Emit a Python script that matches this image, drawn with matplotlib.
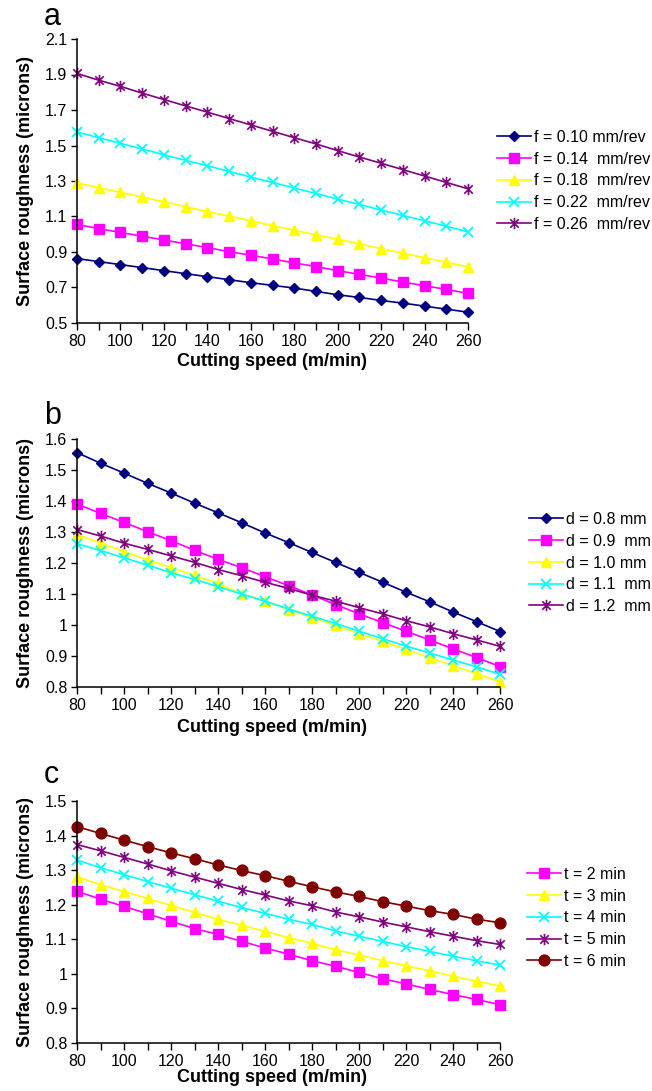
import numpy as np
import matplotlib
matplotlib.use("Agg")
import matplotlib.pyplot as plt
from matplotlib.path import Path

plt.rcParams['font.family'] = ['Liberation Sans', 'DejaVu Sans']

speed = list(range(80, 261, 10))

# (a) effect of feed rate
feed_labels = ["f = 0.10 mm/rev", "f = 0.14  mm/rev", "f = 0.18  mm/rev",
               "f = 0.22  mm/rev", "f = 0.26  mm/rev"]
ra_f010 = [0.863, 0.846, 0.829, 0.812, 0.795, 0.778, 0.761, 0.744, 0.727, 0.712,
           0.697, 0.678, 0.659, 0.644, 0.627, 0.612, 0.595, 0.578, 0.561]
ra_f014 = [1.055, 1.032, 1.010, 0.989, 0.968, 0.946, 0.925, 0.902, 0.882, 0.861,
           0.838, 0.818, 0.795, 0.774, 0.753, 0.731, 0.710, 0.689, 0.667]
ra_f018 = [1.290, 1.262, 1.236, 1.209, 1.183, 1.155, 1.128, 1.102, 1.076, 1.049,
           1.023, 0.996, 0.972, 0.946, 0.919, 0.893, 0.868, 0.842, 0.816]
ra_f022 = [1.576, 1.544, 1.512, 1.480, 1.448, 1.416, 1.386, 1.354, 1.322, 1.292,
           1.260, 1.230, 1.198, 1.168, 1.136, 1.106, 1.076, 1.045, 1.013]
ra_f026 = [1.906, 1.868, 1.833, 1.795, 1.759, 1.723, 1.688, 1.652, 1.616, 1.580,
           1.544, 1.509, 1.471, 1.435, 1.400, 1.364, 1.328, 1.292, 1.256]

# (b) effect of depth of cut
depth_labels = ["d = 0.8 mm", "d = 0.9  mm", "d = 1.0 mm", "d = 1.1  mm", "d = 1.2  mm"]
ra_d08 = [1.556, 1.522, 1.490, 1.457, 1.426, 1.393, 1.362, 1.330, 1.297, 1.266,
          1.234, 1.202, 1.170, 1.138, 1.106, 1.075, 1.042, 1.011, 0.979]
ra_d09 = [1.390, 1.360, 1.331, 1.301, 1.272, 1.241, 1.212, 1.185, 1.156, 1.127,
          1.097, 1.066, 1.036, 1.008, 0.980, 0.952, 0.923, 0.895, 0.866]
ra_d10 = [1.292, 1.264, 1.237, 1.210, 1.185, 1.160, 1.134, 1.101, 1.076, 1.050,
          1.024, 0.999, 0.972, 0.948, 0.921, 0.895, 0.869, 0.843, 0.817]
ra_d11 = [1.262, 1.240, 1.217, 1.193, 1.169, 1.147, 1.124, 1.100, 1.077, 1.052,
          1.028, 1.005, 0.980, 0.956, 0.932, 0.910, 0.887, 0.865, 0.841]
ra_d12 = [1.308, 1.287, 1.264, 1.244, 1.223, 1.202, 1.179, 1.159, 1.138, 1.118,
          1.096, 1.077, 1.056, 1.036, 1.014, 0.994, 0.972, 0.952, 0.931]

# (c) effect of machining time
time_labels = ["t = 2 min", "t = 3 min", "t = 4 min", "t = 5 min", "t = 6 min"]
ra_t2 = [1.239, 1.216, 1.195, 1.174, 1.152, 1.131, 1.114, 1.094, 1.075, 1.057,
         1.038, 1.022, 1.004, 0.986, 0.971, 0.955, 0.940, 0.926, 0.911]
ra_t3 = [1.281, 1.258, 1.238, 1.218, 1.198, 1.178, 1.158, 1.141, 1.123, 1.105,
         1.088, 1.070, 1.055, 1.038, 1.023, 1.009, 0.993, 0.979, 0.965]
ra_t4 = [1.329, 1.307, 1.287, 1.267, 1.248, 1.229, 1.210, 1.192, 1.175, 1.158,
         1.143, 1.124, 1.109, 1.094, 1.079, 1.065, 1.051, 1.038, 1.025]
ra_t5 = [1.374, 1.356, 1.337, 1.318, 1.298, 1.280, 1.262, 1.244, 1.228, 1.211,
         1.197, 1.179, 1.165, 1.150, 1.136, 1.122, 1.109, 1.096, 1.085]
ra_t6 = [1.426, 1.406, 1.387, 1.368, 1.350, 1.333, 1.315, 1.299, 1.284, 1.268,
         1.252, 1.237, 1.224, 1.209, 1.196, 1.183, 1.172, 1.158, 1.148]

# asterisk marker: an "x" crossed by a vertical bar
asterisk = Path([(-1, -1), (1, 1), (-1, 1), (1, -1), (0, -1.35), (0, 1.35)],
                [Path.MOVETO, Path.LINETO, Path.MOVETO, Path.LINETO,
                 Path.MOVETO, Path.LINETO])

STYLES = {
    'diamond': dict(color='#000080', marker='D', ms=5.5, mfc='#000080', mec='#000080'),
    'square': dict(color='#FF00FF', marker='s', ms=7.2, mfc='#FF00FF', mec='#FF00FF'),
    'triangle': dict(color='#FFFF00', marker='^', ms=7.8, mfc='#FFFF00', mec='#FFFF00'),
    'cross': dict(color='#00FFFF', marker='x', ms=7.2, mec='#00FFFF', mew=1.3),
    'asterisk': dict(color='#800080', marker=asterisk, ms=8.2, mfc='none', mec='#800080', mew=1.2),
    'circle': dict(color='#800000', marker='o', ms=7.8, mfc='#800000', mec='#800000'),
}

W, H = 652, 1091
fig = plt.figure(figsize=(W / 100, H / 100), dpi=100)


def px_axes(left, right, top, bottom):
    return fig.add_axes([left / W, 1 - bottom / H, (right - left) / W, (bottom - top) / H])


def style_axes(ax, ylim, yticks, yfmt, left, right, top, bottom, label_y, letter, letter_y):
    ax.set_xlim(80, 260)
    ax.set_ylim(*ylim)
    ax.set_xticks(range(80, 261, 20))
    ax.set_xticks(range(90, 260, 20), minor=True)
    ax.set_yticks(yticks)
    ax.set_yticklabels([yfmt(v) for v in yticks])
    for s in ('top', 'right'):
        ax.spines[s].set_visible(False)
    for s in ('left', 'bottom'):
        ax.spines[s].set_linewidth(1.1)
    ax.tick_params(axis='both', which='both', direction='out', width=1.0,
                   labelsize=11.5, pad=3)
    ax.tick_params(axis='x', which='both', length=5)
    ax.tick_params(axis='y', length=4)
    ax.set_xlabel("Cutting speed (m/min)", fontsize=13, fontweight='bold')
    ax.set_ylabel("Surface roughness (microns)", fontsize=13, fontweight='bold')
    wpx, hpx = right - left, bottom - top
    ax.xaxis.set_label_coords((272 - left) / wpx, -(label_y - bottom) / hpx)
    ax.yaxis.set_label_coords((34 - left) / wpx, 0.5)
    fig.text(44 / W, 1 - letter_y / H, letter, fontsize=22, va='baseline', ha='left')


def draw_panel(ax, series, kinds, labels, leg_x, leg_y):
    handles = []
    for y, k in zip(series, kinds):
        h, = ax.plot(speed, y, lw=1.2, clip_on=False, **STYLES[k])
        handles.append(h)
    ax.legend(handles, labels, loc='center left', bbox_to_anchor=(leg_x / W, 1 - leg_y / H),
              bbox_transform=fig.transFigure, frameon=False, fontsize=11.5,
              borderpad=0, borderaxespad=0, handlelength=2.1, handletextpad=0.2,
              labelspacing=0.42)


fmt1 = lambda v: f"{v:.1f}"
fmtg = lambda v: f"{v:g}"

# panel a
L, R, T, B = 77, 468, 39, 323
ax_a = px_axes(L, R, T, B)
draw_panel(ax_a, [ra_f010, ra_f014, ra_f018, ra_f022, ra_f026],
           ['diamond', 'square', 'triangle', 'cross', 'asterisk'], feed_labels, 497, 181)
style_axes(ax_a, (0.5, 2.1), np.round(np.arange(0.5, 2.11, 0.2), 1), fmt1, L, R, T, B, 353, 'a', 25)

# panel b
L, R, T, B = 77, 500, 439, 687
ax_b = px_axes(L, R, T, B)
draw_panel(ax_b, [ra_d08, ra_d09, ra_d10, ra_d11, ra_d12],
           ['diamond', 'square', 'triangle', 'cross', 'asterisk'], depth_labels, 529, 563)
style_axes(ax_b, (0.8, 1.6), np.round(np.arange(0.8, 1.61, 0.1), 1), fmtg, L, R, T, B, 719, 'b', 424)

# panel c
L, R, T, B = 77, 500, 801, 1043
ax_c = px_axes(L, R, T, B)
draw_panel(ax_c, [ra_t2, ra_t3, ra_t4, ra_t5, ra_t6],
           ['square', 'triangle', 'cross', 'asterisk', 'circle'], time_labels, 527, 918)
style_axes(ax_c, (0.8, 1.5), np.round(np.arange(0.8, 1.51, 0.1), 1), fmtg, L, R, T, B, 1069, 'c', 783)

fig.savefig("out.png", dpi=100)
